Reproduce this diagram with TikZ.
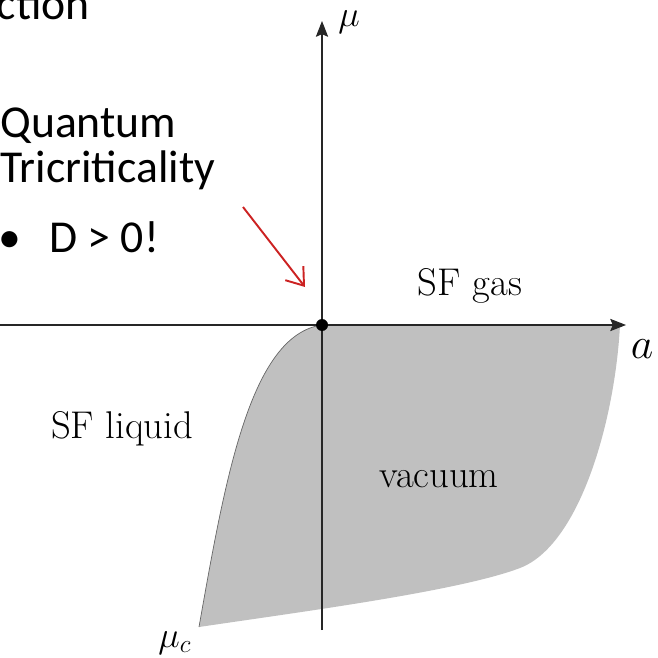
\documentclass[tikz,border=0pt]{standalone}
\usepackage{fontspec}
\newfontfamily\slidefont{Carlito}
\usetikzlibrary{arrows.meta}
\definecolor{slidered}{RGB}{204,34,34}
\definecolor{phasegray}{RGB}{192,192,192}

\begin{document}
\begin{tikzpicture}[x=0.02cm, y=-0.02cm,
    axis/.style={line width=0.6pt, draw=black!85, -{Stealth[length=9pt, width=7pt, inset=1.5pt]}},
    slidetext/.style={anchor=base west, inner sep=0pt, font=\slidefont\fontsize{26}{31}\selectfont},
    phaselabel/.style={anchor=base, inner sep=0pt, font=\fontsize{22}{26}\selectfont}]
    \useasboundingbox (0,0) rectangle (658,658);

    \coordinate (O) at (322,325);
    \coordinate (xstart) at (0,325);
    \coordinate (xend) at (626,325);
    \coordinate (ystart) at (322,630);
    \coordinate (yend) at (322,21);
    \coordinate (corner) at (620,325);
    \coordinate (bend) at (520,568);
    \coordinate (mucorner) at (199,627);
    \coordinate (qtail) at (243,207);
    \coordinate (qtip) at (305,287);

    \fill[phasegray] (O) -- (corner)
      .. controls (615,420) and (580,545) .. (bend)
      .. controls (460,591) and (300,612) .. (mucorner)
      .. controls (225,480) and (250,335) .. (O) -- cycle;
    \draw[black!60, line width=0.4pt] (mucorner) .. controls (225,480) and (250,335) .. (O);

    \draw[axis] (xstart) -- (xend);
    \draw[axis] (ystart) -- (yend);
    \fill (O) circle[radius=0.12cm];

    \node[phaselabel] (gas) at (470,295) {SF gas};
    \node[phaselabel] (liquid) at (122,438) {SF liquid};
    \node[phaselabel] (vacuum) at (439,487) {vacuum};
    \node[anchor=base, inner sep=0pt, font=\fontsize{25}{30}\selectfont] (alabel) at (642,358) {$a$};
    \node[anchor=base, inner sep=0pt, font=\fontsize{20}{24}\selectfont] (mulabel) at (349,27) {$\mu$};
    \node[anchor=base, inner sep=0pt, font=\fontsize{20}{24}\selectfont] (mucrit) at (175,647) {$\mu_c$};

    \node[slidetext, anchor=base east] (title) at (90,20) {ction};
    \node[slidetext] (quantum) at (0,138) {Quantum};
    \node[slidetext] (tricrit) at (0,183) {Tricriticality};
    \node[slidetext] (bullet) at (-2,253) {•};
    \node[slidetext] (dpos) at (49,253) {D > 0!};

    \draw[slidered, line width=1.1pt, -{Straight Barb[length=9pt, width=13pt]}] (qtail) -- (qtip);
\end{tikzpicture}
\end{document}
